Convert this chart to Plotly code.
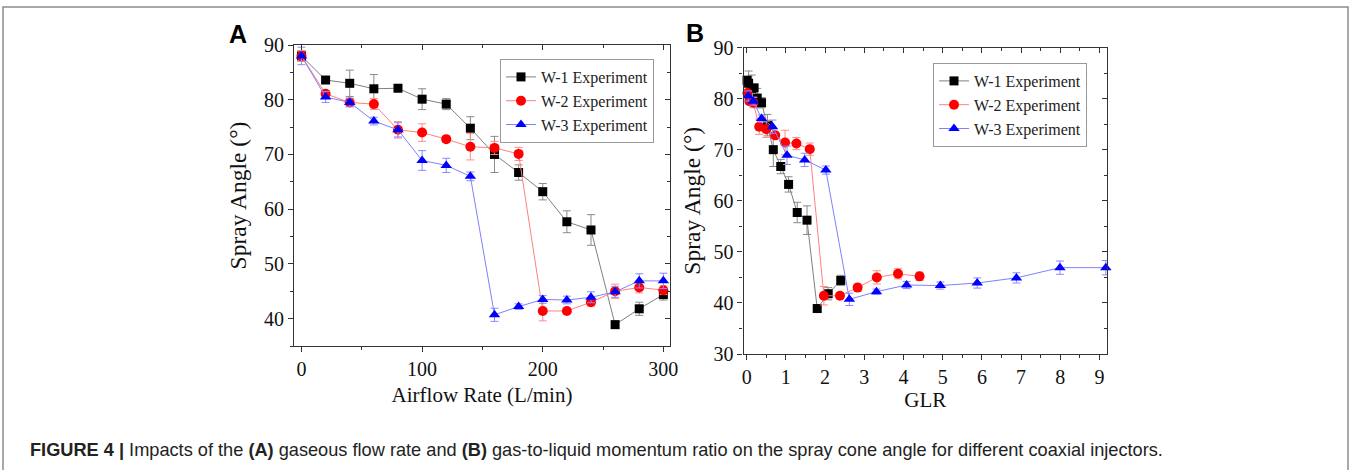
import plotly.graph_objects as go

# ---------------- data ----------------
airflow = [0, 20, 40, 60, 80, 100, 120, 140, 160, 180, 200, 220, 240, 260, 280, 300]

w1_angle = [88.0, 83.6, 83.0, 82.0, 82.1, 80.1, 79.2, 74.8, 70.0, 66.7, 63.2, 57.7, 56.2, 38.9, 41.8, 44.4]
w1_err = [1.0, 0.6, 2.4, 2.6, 0.4, 1.9, 1.0, 2.1, 3.3, 1.4, 1.5, 2.0, 2.8, 0.7, 1.2, 1.0]

w2_angle = [88.0, 81.1, 79.5, 79.2, 74.5, 74.0, 72.8, 71.4, 71.2, 70.1, 41.4, 41.4, 43.0, 45.0, 45.7, 45.2]
w2_err = [1.0, 0.5, 0.7, 1.0, 1.5, 1.6, 0.5, 2.4, 1.2, 1.2, 1.8, 0.5, 0.7, 1.3, 1.0, 0.8]

w3_angle = [88.0, 80.5, 79.5, 76.1, 74.5, 68.9, 68.0, 66.0, 40.7, 42.2, 43.5, 43.4, 43.9, 44.9, 46.9, 46.9]
w3_err = [1.6, 1.0, 0.8, 0.7, 1.3, 1.8, 1.3, 0.8, 1.2, 0.5, 0.7, 0.7, 1.0, 1.0, 1.3, 1.4]

# GLR values (panel B) for airflow 20..300 L/min
w1_glr = [0.01, 0.05, 0.13, 0.19, 0.27, 0.38, 0.53, 0.68, 0.87, 1.07, 1.29, 1.54, 1.80, 2.08, 2.40]
w2_glr = [0.02, 0.07, 0.17, 0.32, 0.50, 0.73, 0.98, 1.27, 1.61, 1.97, 2.38, 2.83, 3.32, 3.86, 4.41]
w3_glr = [0.04, 0.17, 0.38, 0.66, 1.03, 1.48, 2.02, 2.62, 3.31, 4.08, 4.94, 5.88, 6.88, 7.99, 9.16]

series_names = ["W-1 Experiment", "W-2 Experiment", "W-3 Experiment"]

# ---------------- styles ----------------
W, H = 1351, 470
SERIF = "Liberation Serif, Times New Roman, serif"
SANS = "Liberation Sans, Arial, sans-serif"

styles = [
    dict(marker=dict(symbol="square", size=9, color="#000000"),
         line=dict(color="#7f7f7f", width=1), err="#8a8a8a"),
    dict(marker=dict(symbol="circle", size=10, color="#ff0000"),
         line=dict(color="#ff8080", width=1), err="#ff8a8a"),
    dict(marker=dict(symbol="triangle-up", size=10, color="#0000ff"),
         line=dict(color="#8080ff", width=1), err="#8a8aff"),
]

fig = go.Figure()

a_vals = [w1_angle, w2_angle, w3_angle]
a_errs = [w1_err, w2_err, w3_err]
glrs = [w1_glr, w2_glr, w3_glr]

for i in range(3):
    st = styles[i]
    fig.add_trace(go.Scatter(
        x=airflow, y=a_vals[i], mode="lines+markers", name=series_names[i],
        marker=st["marker"], line=st["line"],
        error_y=dict(type="data", array=a_errs[i], color=st["err"], thickness=1, width=4),
        xaxis="x", yaxis="y", legend="legend", cliponaxis=False,
    ))
for i in range(3):
    st = styles[i]
    fig.add_trace(go.Scatter(
        x=glrs[i], y=a_vals[i][1:], mode="lines+markers", name=series_names[i],
        marker=st["marker"], line=st["line"],
        error_y=dict(type="data", array=a_errs[i][1:], color=st["err"], thickness=1, width=4),
        xaxis="x2", yaxis="y2", legend="legend2", cliponaxis=False,
    ))

# dummy traces for the mirrored (inside-tick) frame axes
fig.add_trace(go.Scatter(x=[None], y=[None], xaxis="x3", yaxis="y3", showlegend=False, hoverinfo="skip"))
fig.add_trace(go.Scatter(x=[None], y=[None], xaxis="x4", yaxis="y4", showlegend=False, hoverinfo="skip"))

# ---------------- geometry ----------------
def px_x(v):
    return v / W

def px_y(v):
    return 1 - v / H

A_dom_x = [px_x(294), px_x(670)]
A_dom_y = [px_y(346), px_y(45)]
B_dom_x = [px_x(743.5), px_x(1107)]
B_dom_y = [px_y(354), px_y(47.5)]

A_xr = [-6.2, 305.5]
A_yr = [35, 90]
B_xr = [-0.08, 9.19]
B_yr = [30, 90]

tickfont = dict(family=SERIF, size=20, color="#111111")
xtitlefont = dict(family=SERIF, size=21, color="#111111")
ytitlefont = dict(family=SERIF, size=23.5, color="#111111")
axcol = "#333333"

def main_axis(dom, rng, dtick, mdtick, title, tfont, standoff):
    return dict(domain=dom, range=rng, dtick=dtick, tick0=0, showline=True, linecolor=axcol,
                linewidth=1.2, ticks="outside", ticklen=5, tickwidth=1.2, tickcolor=axcol,
                minor=dict(ticks="outside", ticklen=3, dtick=mdtick, tick0=0, tickcolor=axcol, tickwidth=1.2),
                showgrid=False, zeroline=False, tickfont=tickfont, automargin=False,
                title=dict(text=title, font=tfont, standoff=standoff))

def mirror_axis(dom, rng, dtick, mdtick, side, overlay, anchor):
    return dict(domain=dom, range=rng, dtick=dtick, tick0=0, showline=True, linecolor=axcol,
                linewidth=1.2, ticks="inside", ticklen=5, tickwidth=1.2, tickcolor=axcol,
                minor=dict(ticks="inside", ticklen=3, dtick=mdtick, tick0=0, tickcolor=axcol, tickwidth=1.2),
                showgrid=False, zeroline=False, showticklabels=False, side=side,
                overlaying=overlay, anchor=anchor, automargin=False)

legend_common = dict(xanchor="left", yanchor="middle", bgcolor="white",
                     bordercolor="#999999", borderwidth=1,
                     font=dict(family=SERIF, size=16, color="#222222"),
                     tracegroupgap=0, itemwidth=30)

fig.update_layout(
    width=W, height=H, margin=dict(l=0, r=0, t=0, b=0, autoexpand=False),
    paper_bgcolor="white", plot_bgcolor="rgba(0,0,0,0)",
    xaxis=dict(**main_axis(A_dom_x, A_xr, 100, 50, "Airflow Rate (L/min)", xtitlefont, 8), anchor="y"),
    yaxis=dict(**main_axis(A_dom_y, A_yr, 10, 5, "Spray Angle (°)", ytitlefont, 10), anchor="x"),
    xaxis2=dict(**main_axis(B_dom_x, B_xr, 1, 0.5, "GLR", xtitlefont, 1), anchor="y2"),
    yaxis2=dict(**main_axis(B_dom_y, B_yr, 10, 5, "Spray Angle (°)", ytitlefont, 6), anchor="x2"),
    xaxis3=mirror_axis(A_dom_x, A_xr, 100, 50, "top", "x", "y3"),
    yaxis3=mirror_axis(A_dom_y, A_yr, 10, 5, "right", "y", "x3"),
    xaxis4=mirror_axis(B_dom_x, B_xr, 1, 0.5, "top", "x2", "y4"),
    yaxis4=mirror_axis(B_dom_y, B_yr, 10, 5, "right", "y2", "x4"),
    legend=dict(x=px_x(500), y=px_y(101), **legend_common),
    legend2=dict(x=px_x(933), y=px_y(105), **legend_common),
    showlegend=True,
)

# panel labels
fig.add_annotation(text="<b>A</b>", x=px_x(238), y=px_y(34), xref="paper", yref="paper",
                   showarrow=False, font=dict(family=SANS, size=25, color="#000000"),
                   xanchor="center", yanchor="middle")
fig.add_annotation(text="<b>B</b>", x=px_x(695), y=px_y(33), xref="paper", yref="paper",
                   showarrow=False, font=dict(family=SANS, size=25, color="#000000"),
                   xanchor="center", yanchor="middle")

# caption
fig.add_annotation(
    text="<b>FIGURE 4 |</b> Impacts of the <b>(A)</b> gaseous flow rate and <b>(B)</b> gas-to-liquid momentum ratio on the spray cone angle for different coaxial injectors.",
    x=px_x(28), y=px_y(450), xref="paper", yref="paper", showarrow=False,
    font=dict(family=SANS, size=18.2, color="#222222"), xanchor="left", yanchor="middle")

# outer border (open at the bottom)
bx0, bx1, by1 = px_x(3), px_x(1348), px_y(7)
fig.add_shape(type="path", xref="paper", yref="paper",
              path=f"M {bx0},0 L {bx0},{by1} L {bx1},{by1} L {bx1},0",
              line=dict(color="#8c8c8c", width=1.5))

fig.write_html("out.html", post_script="document.body.style.margin='0';document.body.style.overflow='hidden';")
